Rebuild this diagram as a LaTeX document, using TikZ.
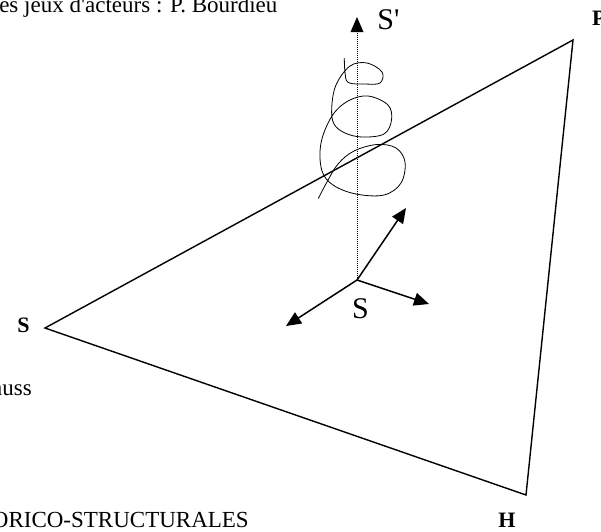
\documentclass[tikz,border=0pt]{standalone}
\usepackage{fontspec}
\newfontfamily\tm{Liberation Serif}
\usetikzlibrary{arrows.meta}
\tikzset{
  edge/.style={line width=1.4pt, line join=miter},
  vec/.style={line width=1.5pt, -{Triangle[length=15pt,width=13pt]}},
  dots/.style={line width=1pt, dash pattern=on 1pt off 1pt},
  scrib/.style={line width=0.8pt},
  bigl/.style={font=\tm\fontsize{30}{32}\selectfont, inner sep=0pt},
  boldl/.style={font=\tm\bfseries\fontsize{22}{24}\selectfont, inner sep=0pt},
  txt/.style={font=\tm\fontsize{23}{25}\selectfont, inner sep=0pt}
}
\begin{document}
\begin{tikzpicture}[x=1pt,y=-1pt]
\useasboundingbox (0,0) rectangle (601,531);
% triangle
\coordinate (A) at (45,328);
\coordinate (B) at (573,40);
\coordinate (C) at (526,495);
\draw[edge] (A) -- (B) -- (C) -- cycle;
% origin and vectors
\coordinate (O) at (357,280);
\coordinate (V1) at (406,208);
\coordinate (V2) at (429,304);
\coordinate (V3) at (286,326);
\coordinate (Top) at (357,32);
\coordinate (Tip) at (357,17);
\draw[dots] (O) -- (Top);
\fill (Tip) -- ++(6.5,15) -- ++(-13,0) -- cycle;
\draw[vec] (O) -- (V1);
\draw[vec] (O) -- (V2);
\draw[vec] (O) -- (V3);
% scribble
\draw[scrib] plot[smooth, tension=0.6] coordinates {
 (344.3,58) (345,72) (348.3,82.5) (365,84) (380,83) (382,72) (367,63) (350,66)
 (336,85) (331.7,108) (334,124) (345,133) (362,137) (384,134) (391.5,120)
 (388,105) (368,96) (348,101) (332,116) (321,143) (321.7,170) (333,185)
 (356,194) (384,195) (401,183) (405,162) (396,148) (377,144.5) (354,151)
 (338,164) (327,182) (318.3,198.5)};
% labels
\node[bigl] (Sp) at (388.5,20) {S'};
\node[bigl] (So) at (360.5,308.5) {S};
\node[boldl] (Sl) at (23.5,325.5) {S};
\node[boldl, anchor=west] (P) at (592,18) {P};
\node[boldl] (H) at (507,520) {H};
\node[txt, anchor=base west] (t1) at (-15,12) {Les jeux d'acteurs : P. Bourdieu};
\node[txt, anchor=base east] (t2) at (32,395) {L\'evi-Strauss};
\node[txt, anchor=base east] (t3) at (249,527) {HISTORICO-STRUCTURALES};
\end{tikzpicture}
\end{document}
